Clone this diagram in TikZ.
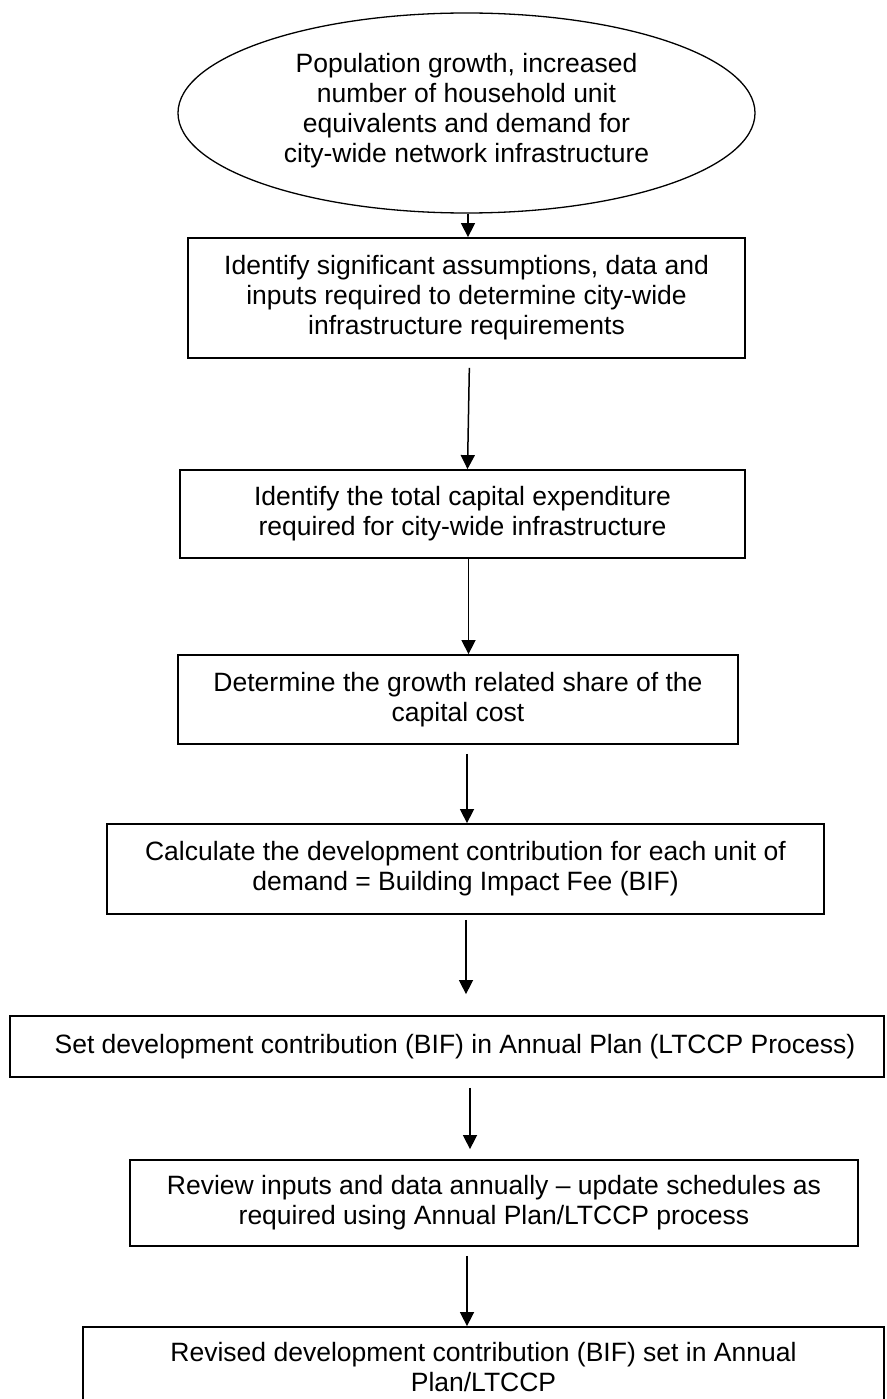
\documentclass[tikz,border=0pt]{standalone}
\usepackage{fontspec}
\setmainfont{Liberation Sans}
\usetikzlibrary{shapes.geometric,arrows.meta}
\begin{document}
\begin{tikzpicture}[x=1pt,y=-1pt,
  txt/.style={font=\fontsize{26.5}{30}\selectfont, align=center, inner sep=0pt},
  stepbox/.style={draw, line width=1.8pt, rectangle, inner sep=0pt, txt},
  arr/.style={-{Triangle[width=14pt,length=14pt]}, line width=1.5pt}]
\useasboundingbox (0,0) rectangle (886,1399);
\fill[white] (0,0) rectangle (886,1399);

\node[draw, ellipse, line width=1.3pt, minimum width=577pt, minimum height=200pt, inner sep=0pt,
  label={[txt, yshift=2pt]center:{Population growth, increased\\number of household unit\\equivalents and demand for\\city-wide network infrastructure}}]
  (e) at (466.5,113) {};

\node[stepbox, minimum width=557pt, minimum height=120pt] (b1) at (466.5,298)
  {Identify significant assumptions, data and\\inputs required to determine city-wide\\infrastructure requirements};
\node[stepbox, minimum width=565pt, minimum height=88pt] (b2) at (462.5,514)
  {Identify the total capital expenditure\\required for city-wide infrastructure};
\node[stepbox, minimum width=560pt, minimum height=89pt] (b3) at (458,699.5)
  {Determine the growth related share of the\\capital cost};
\node[stepbox, minimum width=717pt, minimum height=90pt] (b4) at (465.5,869)
  {Calculate the development contribution for each unit of\\demand = Building Impact Fee (BIF)};
\node[stepbox, minimum width=874pt, minimum height=61pt] (b5) at (447,1046.5)
  {\hspace*{16pt}Set development contribution (BIF) in Annual Plan (LTCCP Process)};
\node[stepbox, minimum width=728pt, minimum height=86pt] (b6) at (494,1203)
  {Review inputs and data annually -- update schedules as\\required using Annual Plan/LTCCP process};
\node[stepbox, minimum width=801pt, minimum height=81pt] (b7) at (483.5,1367.5)
  {Revised development contribution (BIF) set in Annual\\Plan/LTCCP};

\draw[arr] ([xshift=1.5pt]e.south) -- ([xshift=1.5pt]b1.north);
\draw[arr, shorten <=9pt] ([xshift=3pt]b1.south) -- ([xshift=5pt]b2.north);
\draw[arr] ([xshift=6pt]b2.south) -- ([xshift=10.5pt]b3.north);
\draw[arr, shorten <=9pt] ([xshift=9pt]b3.south) -- ([xshift=1.5pt]b4.north);
\draw[arr, shorten <=5pt, shorten >=21pt] ([xshift=0.5pt]b4.south) -- ([xshift=19pt]b5.north);
\draw[arr, shorten <=10pt, shorten >=10pt] ([xshift=23pt]b5.south) -- ([xshift=-24pt]b6.north);
\draw[arr, shorten <=9pt] ([xshift=-27pt]b6.south) -- ([xshift=-16.5pt]b7.north);
\end{tikzpicture}
\end{document}
